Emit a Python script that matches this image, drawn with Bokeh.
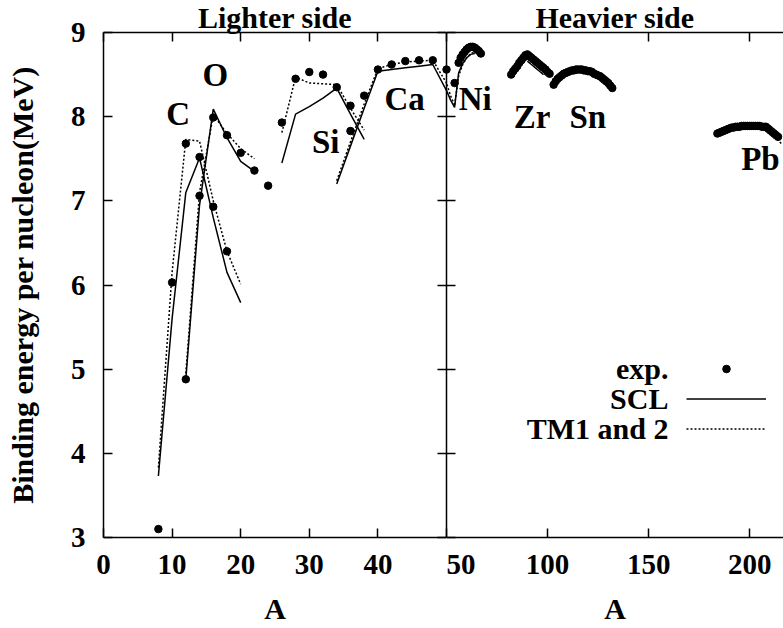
from bokeh.plotting import figure
from bokeh.layouts import row
from bokeh.models import Range1d, LinearAxis, FixedTicker, Label, Legend, LegendItem, Title
from bokeh.embed import file_html
from bokeh.resources import INLINE

FONT = "Liberation Serif"

# ---------------- data ----------------
# experimental points, lighter side
exp_light_A = [8, 10, 12, 12, 14, 14, 16, 16, 18, 18, 20, 22, 24,
               26, 28, 30, 32, 34, 36, 36, 38, 40, 42, 44, 46, 48, 50]
exp_light_E = [3.10, 6.03, 4.88, 7.68, 7.06, 7.52, 6.93, 7.99, 6.40, 7.78, 7.57, 7.36, 7.18,
               7.93, 8.45, 8.53, 8.50, 8.35, 7.83, 8.13, 8.25, 8.56, 8.62, 8.66, 8.67, 8.67, 8.56]
# experimental points, heavier side
exp_Ni_A = [54, 56, 57, 58, 59, 60, 61, 62, 63, 64, 65, 66, 67]
exp_Ni_E = [8.40, 8.64, 8.70, 8.74, 8.77, 8.80, 8.82, 8.83, 8.83, 8.82, 8.80, 8.78, 8.75]
exp_Zr_A = list(range(82, 102))
exp_Zr_E = [8.50, 8.54, 8.57, 8.60, 8.64, 8.67, 8.70, 8.73, 8.74, 8.72,
            8.70, 8.68, 8.66, 8.64, 8.62, 8.60, 8.58, 8.56, 8.53, 8.51]
exp_Sn_A = list(range(103, 133))
exp_Sn_E = [8.38, 8.42, 8.45, 8.47, 8.49, 8.51, 8.52, 8.53, 8.54, 8.55,
            8.55, 8.56, 8.56, 8.56, 8.56, 8.55, 8.55, 8.54, 8.54, 8.53,
            8.51, 8.50, 8.49, 8.48, 8.46, 8.44, 8.42, 8.40, 8.37, 8.34]
exp_Pb_A = list(range(184, 215))
exp_Pb_E = [7.80, 7.81, 7.82, 7.83, 7.84, 7.85, 7.86, 7.87, 7.87, 7.88,
            7.88, 7.88, 7.89, 7.89, 7.89, 7.89, 7.89, 7.89, 7.89, 7.89,
            7.89, 7.89, 7.88, 7.88, 7.88, 7.86, 7.84, 7.82, 7.80, 7.78, 7.76]

# SCL (solid) chains
scl_C_A = [8, 10, 12, 14, 16, 18, 20]
scl_C_E = [3.73, 5.60, 7.10, 7.51, 6.80, 6.15, 5.79]
scl_O_A = [12, 14, 16, 18, 20, 22]
scl_O_E = [4.88, 6.95, 8.09, 7.75, 7.47, 7.35]
scl_Si_A = [26, 28, 30, 32, 34, 36, 38]
scl_Si_E = [7.45, 8.03, 8.12, 8.22, 8.34, 8.03, 7.73]
scl_Ca_A = [34, 36, 38, 40, 42, 44, 46, 48, 50, 52, 54]
scl_Ca_E = [7.20, 7.65, 8.10, 8.54, 8.56, 8.58, 8.60, 8.62, 8.31, 8.20, 8.11]
scl_Ni_A = [54, 56, 58, 60, 62, 64]
scl_Ni_E = [8.11, 8.52, 8.63, 8.70, 8.74, 8.75]
scl_Zr_A = [90, 92, 94, 96, 98]
scl_Zr_E = [8.66, 8.62, 8.58, 8.54, 8.50]

# TM1 and 2 (dotted) chains
tm_C_A = [8, 10, 12, 14, 16, 18, 20]
tm_C_E = [3.83, 6.15, 7.73, 7.71, 7.00, 6.40, 6.01]
tm_O_A = [12, 14, 16, 18, 20, 22]
tm_O_E = [4.95, 7.10, 8.02, 7.80, 7.62, 7.50]
tm_Si_A = [26, 28, 30, 32, 34, 36, 38]
tm_Si_E = [7.81, 8.47, 8.40, 8.39, 8.38, 8.10, 7.84]
tm_Ca_A = [34, 36, 38, 40, 42, 44, 46, 48, 50, 52, 54]
tm_Ca_E = [7.24, 7.70, 8.15, 8.57, 8.62, 8.65, 8.66, 8.67, 8.40, 8.25, 8.14]
tm_Ni_A = [54, 56, 58, 60, 62, 64]
tm_Ni_E = [8.14, 8.48, 8.62, 8.70, 8.75, 8.77]
tm_Zr_A = [90, 92, 94, 96, 98]
tm_Zr_E = [8.69, 8.65, 8.61, 8.57, 8.53]
tm_Pb_A = [208, 212, 216]
tm_Pb_E = [7.87, 7.78, 7.67]

y_ticks = [3, 4, 5, 6, 7, 8, 9]
x_ticks_light = [0, 10, 20, 30, 40, 50]
x_ticks_heavy = [50, 100, 150, 200]
shared_tick = 50

exp_A = exp_light_A + exp_Ni_A + exp_Zr_A + exp_Sn_A + exp_Pb_A
exp_E = exp_light_E + exp_Ni_E + exp_Zr_E + exp_Sn_E + exp_Pb_E
scl_chains = [(scl_C_A, scl_C_E), (scl_O_A, scl_O_E), (scl_Si_A, scl_Si_E),
              (scl_Ca_A, scl_Ca_E), (scl_Ni_A, scl_Ni_E), (scl_Zr_A, scl_Zr_E)]
tm_chains = [(tm_C_A, tm_C_E), (tm_O_A, tm_O_E), (tm_Si_A, tm_Si_E),
             (tm_Ca_A, tm_Ca_E), (tm_Ni_A, tm_Ni_E), (tm_Zr_A, tm_Zr_E), (tm_Pb_A, tm_Pb_E)]

H = 628
TOP = 32
BOTTOM = 91
PX_PER_E = 84.0
LABEL_LIFT = 12 / PX_PER_E


def style_axis(ax, ticks, hide=()):
    ax.ticker = FixedTicker(ticks=ticks)
    ax.axis_line_width = 1.5
    ax.axis_line_color = "black"
    ax.major_tick_in = 9
    ax.major_tick_out = 0
    ax.minor_tick_in = 0
    ax.minor_tick_out = 0
    ax.major_tick_line_width = 1.5
    ax.major_tick_line_color = "black"
    ax.major_label_text_font = FONT
    ax.major_label_text_font_style = "bold"
    ax.major_label_text_color = "black"
    ax.major_label_text_font_size = "29px"
    ax.axis_label_text_font = FONT
    ax.axis_label_text_font_style = "bold"
    ax.axis_label_text_font_size = "30px"
    ax.axis_label_text_color = "black"
    if hide == "all":
        ax.major_label_overrides = {t: "" for t in ticks}
        ax.major_label_standoff = 0
        ax.major_label_text_font_size = "0px"
    elif hide:
        ax.major_label_overrides = {t: "" for t in hide}


def add_text(p, x, y, text, size="33px", align="center"):
    p.add_layout(Label(x=x, y=y + LABEL_LIFT, text=text, text_font=FONT,
                       text_font_style="bold", text_font_size=size, text_align=align,
                       text_baseline="alphabetic", text_color="black"))


def make_panel(x0, x1, width, border_left, xticks, hide, title, title_offset):
    p = figure(width=width, height=H, x_range=Range1d(x0, x1), y_range=Range1d(3, 9),
               output_backend="svg", toolbar_location=None,
               x_axis_location=None, y_axis_location=None,
               min_border_left=border_left, min_border_right=0,
               min_border_top=TOP, min_border_bottom=BOTTOM)
    p.outline_line_color = None
    p.background_fill_color = None
    p.border_fill_color = "white"
    p.grid.visible = False
    below = LinearAxis(axis_label="A")
    style_axis(below, xticks, hide=hide)
    below.major_label_standoff = 17
    below.axis_label_standoff = 15
    p.add_layout(below, "below")
    above = LinearAxis()
    style_axis(above, xticks, hide="all")
    p.add_layout(above, "above")
    p.add_layout(Title(text=title, align="center", offset=title_offset, standoff=-3,
                       text_font=FONT, text_font_style="bold", text_font_size="30px",
                       text_color="black"), "above")
    rs, rt = [], []
    for A, E in scl_chains:
        rs.append(p.line(A, E, line_color="black", line_width=1.5))
    for A, E in tm_chains:
        rt.append(p.line(A, E, line_color="black", line_width=1.5, line_dash="2 2"))
    re = p.scatter(exp_A, exp_E, size=7.5, color="black")
    return p, re, rs, rt


# ---------------- lighter side ----------------
pL, _, _, _ = make_panel(0, 50, 446, 103, x_ticks_light, [shared_tick], "Lighter side", 5)
left = LinearAxis(axis_label="Binding energy per nucleon(MeV)")
style_axis(left, y_ticks)
left.major_label_standoff = 18
left.axis_label_standoff = 29
pL.add_layout(left, "left")
rightL = LinearAxis()
style_axis(rightL, y_ticks, hide="all")
pL.add_layout(rightL, "right")

add_text(pL, 10.9, 7.89, "C")
add_text(pL, 16.3, 8.35, "O")
add_text(pL, 32.4, 7.56, "Si")
add_text(pL, 43.9, 8.07, "Ca")

# ---------------- heavier side ----------------
pR, r_exp, r_scl, r_tm = make_panel(50, 216.7, 337, 0, x_ticks_heavy, (), "Heavier side", 6)
leftR = LinearAxis()
style_axis(leftR, y_ticks, hide="all")
pR.add_layout(leftR, "left")

add_text(pR, 64.2, 8.07, "Ni")
add_text(pR, 92.3, 7.85, "Zr")
add_text(pR, 119.9, 7.85, "Sn")
add_text(pR, 205.3, 7.355, "Pb")

# legend: texts on the left, samples on the right
leg = Legend(items=[LegendItem(label=" ", renderers=[r_exp]),
                    LegendItem(label=" ", renderers=[r_scl[0]]),
                    LegendItem(label=" ", renderers=[r_tm[0]])],
             location=(240, 99), glyph_width=80, glyph_height=19, label_height=19,
             label_width=0, label_standoff=0, spacing=11, padding=0, margin=0,
             border_line_color=None, background_fill_alpha=0, label_text_font_size="1px")
pR.add_layout(leg)
add_text(pR, 159.8, 4.86, "exp.", size="30px", align="right")
add_text(pR, 159.8, 4.505, "SCL", size="30px", align="right")
add_text(pR, 159.8, 4.157, "TM1 and 2", size="30px", align="right")

layout = row(pL, pR)
open("out.html", "w").write(file_html(layout, INLINE))
